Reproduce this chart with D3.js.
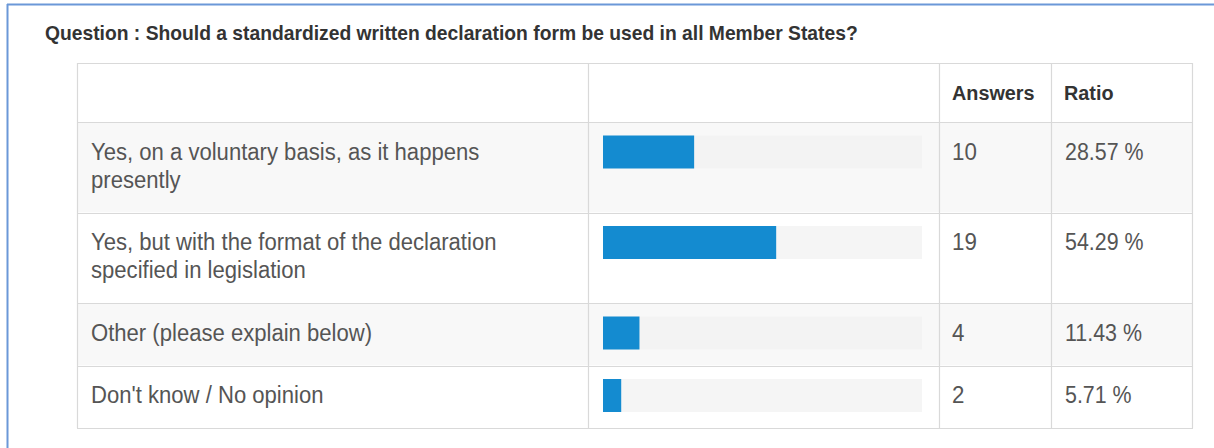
<!DOCTYPE html>
<html>
<head>
<meta charset="utf-8">
<script src="https://cdn.jsdelivr.net/npm/d3@7"></script>
<style>
  html, body { margin: 0; padding: 0; background: #fff; }
  svg { display: block; }
</style>
</head>
<body>
<svg id="chart" width="1214" height="448"></svg>
<script>
// ---- data ----
const title = "Question : Should a standardized written declaration form be used in all Member States?";
const headers = ["", "", "Answers", "Ratio"];
const categories = [
  ["Yes, on a voluntary basis, as it happens", "presently"],
  ["Yes, but with the format of the declaration", "specified in legislation"],
  ["Other (please explain below)"],
  ["Don't know / No opinion"]
];
const answers = [10, 19, 4, 2];
const ratios = [28.57, 54.29, 11.43, 5.71];
const ratioLabels = ["28.57 %", "54.29 %", "11.43 %", "5.71 %"];

// ---- layout ----
const svg = d3.select("#chart");
const W = 1214, H = 448;
const tableLeft = 77, tableTop = 63, tableRight = 1192;
const colEdges = [tableLeft, 588, 939, 1051, tableRight];
const headerH = 59;
const rowH = categories.map(c => c.length > 1 ? 90.5 : 62.5);
const rowTops = [];
let acc = tableTop + headerH;
rowH.forEach(h => { rowTops.push(acc); acc += h; });
const tableBottom = acc;

const barLeft = 603, trackW = 319, barH = 33, barPadTop = 13.5;
const x = d3.scaleLinear().domain([0, 100]).range([0, trackW]);

const textColor = "#555";
const font = "'Liberation Sans', Arial, Helvetica, sans-serif";

// horizontally condense text a little (reference glyphs are narrow)
function condense(sel, factor) {
  sel.each(function () {
    const w = this.getComputedTextLength();
    if (w > 0) d3.select(this).attr("textLength", w * factor).attr("lengthAdjust", "spacingAndGlyphs");
  });
}

// outer frame (blue)
svg.append("line").attr("x1", 7).attr("x2", W).attr("y1", 4.5).attr("y2", 4.5)
  .attr("stroke", "#6b98d8").attr("stroke-width", 2);
svg.append("line").attr("x1", 7.5).attr("x2", 7.5).attr("y1", 4).attr("y2", H)
  .attr("stroke", "#6b98d8").attr("stroke-width", 2);

// title
svg.append("text").attr("x", 45).attr("y", 39.5)
  .attr("font-family", font).attr("font-size", 20.5).attr("font-weight", "bold")
  .attr("fill", "#333").text(title)
  .call(condense, 0.94);

// row backgrounds
const g = svg.append("g");
g.selectAll("rect.row").data(categories).join("rect")
  .attr("class", "row")
  .attr("x", tableLeft).attr("width", tableRight - tableLeft)
  .attr("y", (d, i) => rowTops[i]).attr("height", (d, i) => rowH[i])
  .attr("fill", (d, i) => i % 2 === 0 ? "#f8f8f8" : "#ffffff");

// tracks
g.selectAll("rect.track").data(ratios).join("rect")
  .attr("class", "track")
  .attr("x", barLeft).attr("width", x(100))
  .attr("y", (d, i) => rowTops[i] + barPadTop).attr("height", barH)
  .attr("fill", (d, i) => i % 2 === 0 ? "#f3f3f3" : "#f5f5f5");

// bars
g.selectAll("rect.bar").data(ratios).join("rect")
  .attr("class", "bar")
  .attr("x", barLeft).attr("width", d => x(d))
  .attr("y", (d, i) => rowTops[i] + barPadTop).attr("height", barH)
  .attr("fill", "#148bd0");

// grid lines
const lineColor = "#d9d9d9";
const hLines = [tableTop, tableTop + headerH, ...rowTops.slice(1), tableBottom];
svg.selectAll("line.h").data(hLines).join("line").attr("class", "h")
  .attr("x1", tableLeft).attr("x2", tableRight + 1)
  .attr("y1", d => Math.round(d) + 0.5).attr("y2", d => Math.round(d) + 0.5)
  .attr("stroke", lineColor).attr("stroke-width", 1.2);
svg.selectAll("line.v").data(colEdges).join("line").attr("class", "v")
  .attr("x1", d => d + 0.5).attr("x2", d => d + 0.5)
  .attr("y1", tableTop).attr("y2", tableBottom)
  .attr("stroke", lineColor).attr("stroke-width", 1.2);

// header text
svg.selectAll("text.hdr").data(headers).join("text").attr("class", "hdr")
  .attr("x", (d, i) => colEdges[i] + 13)
  .attr("y", tableTop + 36.5)
  .attr("font-family", font).attr("font-size", 20).attr("font-weight", "bold")
  .attr("fill", "#333").text(d => d)
  .call(condense, 0.99);

// category text
const pad = 13, firstBase = 37.5, lineH = 28;
const lineData = [];
categories.forEach((lines, i) => lines.forEach((ln, j) => lineData.push({ i, j, ln })));
svg.selectAll("text.cat").data(lineData).join("text").attr("class", "cat")
  .attr("x", tableLeft + pad + 1)
  .attr("y", d => rowTops[d.i] + firstBase + d.j * lineH)
  .attr("font-family", font).attr("font-size", 23).attr("fill", textColor)
  .text(d => d.ln)
  .call(condense, 0.96);

// answers & ratio text
svg.selectAll("text.ans").data(answers).join("text").attr("class", "ans")
  .attr("x", colEdges[2] + 13).attr("y", (d, i) => rowTops[i] + firstBase)
  .attr("font-family", font).attr("font-size", 23).attr("fill", textColor)
  .text(d => d)
  .call(condense, 0.97);
svg.selectAll("text.rat").data(ratioLabels).join("text").attr("class", "rat")
  .attr("x", colEdges[3] + 14).attr("y", (d, i) => rowTops[i] + firstBase)
  .attr("font-family", font).attr("font-size", 23).attr("fill", textColor)
  .text(d => d)
  .call(condense, 0.93);
</script>
</body>
</html>
